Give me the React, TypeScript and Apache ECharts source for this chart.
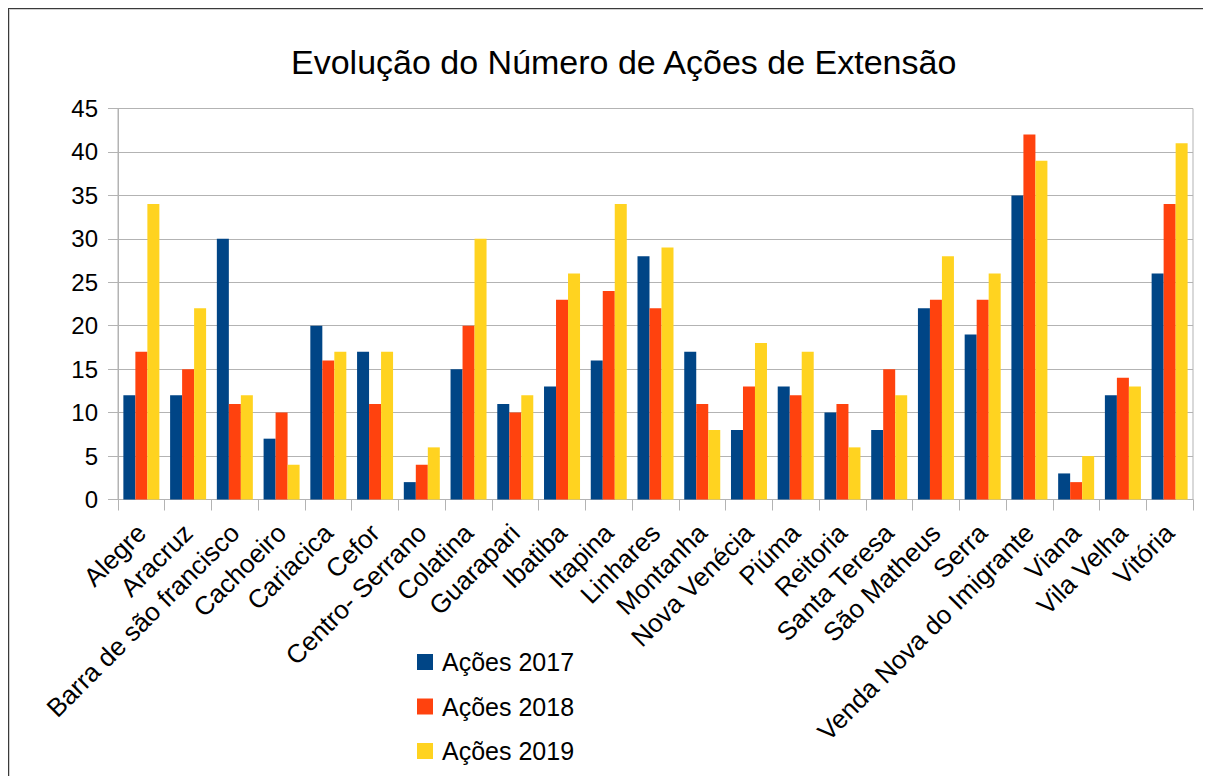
import React, { useEffect, useRef } from "react";
import * as echarts from "echarts";

const categories = [
  "Alegre", "Aracruz", "Barra de são francisco", "Cachoeiro", "Cariacica", "Cefor",
  "Centro- Serrano", "Colatina", "Guarapari", "Ibatiba", "Itapina", "Linhares",
  "Montanha", "Nova Venécia", "Piúma", "Reitoria", "Santa Teresa", "São Matheus",
  "Serra", "Venda Nova do Imigrante", "Viana", "Vila Velha", "Vitória",
];
const acoes2017 = [12, 12, 30, 7, 20, 17, 2, 15, 11, 13, 16, 28, 17, 8, 13, 10, 8, 22, 19, 35, 3, 12, 26];
const acoes2018 = [17, 15, 11, 10, 16, 11, 4, 20, 10, 23, 24, 22, 11, 13, 12, 11, 15, 23, 23, 42, 2, 14, 34];
const acoes2019 = [34, 22, 12, 4, 17, 17, 6, 30, 12, 26, 34, 29, 8, 18, 17, 6, 12, 28, 26, 39, 5, 13, 41];
const seriesNames = ["Ações 2017", "Ações 2018", "Ações 2019"];
const seriesColors = ["#004586", "#ff420e", "#ffd320"];
const yTicks = { min: 0, max: 45, interval: 5 };
const titleText = "Evolução do Número de Ações de Extensão";

const FONT = "'Liberation Sans', Arial, sans-serif";

export default function App() {
  const ref = useRef<HTMLDivElement>(null);
  useEffect(() => {
    document.documentElement.style.overflow = "hidden";
    const chart = echarts.init(ref.current!, undefined, { renderer: "svg" });
    const values = [acoes2017, acoes2018, acoes2019];
    chart.setOption({
      animation: false,
      backgroundColor: "#ffffff",
      textStyle: { fontFamily: FONT },
      title: {
        text: titleText,
        left: 283,
        top: 37,
        padding: 0,
        textStyle: { fontFamily: FONT, fontSize: 34, fontWeight: "normal", color: "#000000" },
      },
      legend: {
        orient: "vertical",
        left: 409,
        top: 641.5,
        padding: 0,
        itemGap: 19.5,
        itemWidth: 16,
        itemHeight: 16,
        icon: "rect",
        data: seriesNames,
        textStyle: { fontFamily: FONT, fontSize: 25, color: "#000000", padding: [0, 0, 0, 4] },
      },
      graphic: [
        {
          type: "line",
          shape: { x1: 0, y1: 0.5, x2: 1400, y2: 0.5 },
          style: { stroke: "#3a3a3a", lineWidth: 1 },
          silent: true,
        },
        {
          type: "line",
          shape: { x1: 0.5, y1: 0, x2: 0.5, y2: 1000 },
          style: { stroke: "#3a3a3a", lineWidth: 1 },
          silent: true,
        },
        {
          type: "line",
          shape: { x1: 1, y1: 1.5, x2: 1400, y2: 1.5 },
          style: { stroke: "#d0d0d0", lineWidth: 1 },
          silent: true,
        },
        {
          type: "line",
          shape: { x1: 1.5, y1: 1, x2: 1.5, y2: 1000 },
          style: { stroke: "#d0d0d0", lineWidth: 1 },
          silent: true,
        },
      ],
      grid: {
        left: 110,
        top: 100.5,
        right: 18,
        bottom: 276.5,
        containLabel: false,
        outerBoundsMode: "none",
        show: true,
        borderColor: "#b3b3b3",
        borderWidth: 1,
        backgroundColor: "transparent",
      },
      xAxis: {
        type: "category",
        data: categories,
        boundaryGap: true,
        axisLine: { show: true, lineStyle: { color: "#b3b3b3", width: 1 } },
        axisTick: { show: true, length: 11, lineStyle: { color: "#b3b3b3" } },
        axisLabel: {
          interval: 0,
          rotate: 45,
          margin: 29,
          fontFamily: FONT,
          fontSize: 26,
          color: "#000000",
        },
        splitLine: { show: false },
      },
      yAxis: {
        type: "value",
        min: yTicks.min,
        max: yTicks.max,
        interval: yTicks.interval,
        axisLine: { show: true, lineStyle: { color: "#b3b3b3", width: 1 } },
        axisTick: { show: true, length: 10, lineStyle: { color: "#b3b3b3" } },
        axisLabel: { margin: 20, fontFamily: FONT, fontSize: 24, color: "#000000" },
        splitLine: { show: true, lineStyle: { color: "#b3b3b3", width: 1 } },
      },
      series: seriesNames.map((name, i) => ({
        name,
        type: "bar",
        data: values[i],
        barWidth: 12,
        barGap: "0%",
        itemStyle: { color: seriesColors[i] },
      })),
    });
    return () => chart.dispose();
  }, []);
  return <div ref={ref} style={{ width: 1203, height: 768 }} />;
}
